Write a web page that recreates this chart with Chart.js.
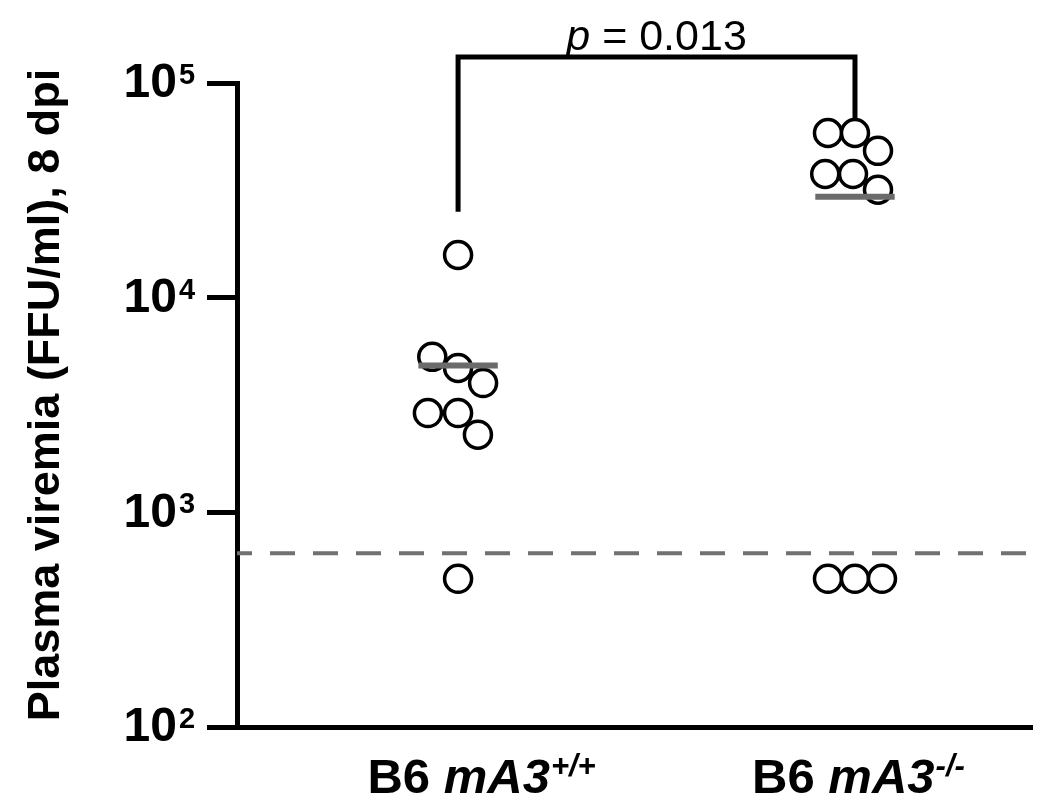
<!DOCTYPE html>
<html lang="en">
<head>
<meta charset="UTF-8">
<title>Plasma viremia</title>
<script src="https://cdn.jsdelivr.net/npm/chart.js"></script>
<style>
    html, body {
        margin: 0;
        padding: 0;
        background: #fff;
        overflow: hidden;
    }
    .chart-container {
        width: 1050px;
        height: 807px;
    }
</style>
</head>
<body>
<div class="chart-container">
    <canvas id="chartCanvas"></canvas>
</div>
<script>
    // groups (x positions 1 and 2 on a linear axis)
    const groupX = [1, 2];
    const groupBase = ['B6 ', 'B6 '];
    const groupGene = ['mA3', 'mA3'];
    const groupSup = ['+/+', '-/-'];

    // individual mice, FFU/ml (x = group position + jitter)
    const wtX = [1, 0.935, 1, 1.063, 0.924, 1, 1.05, 1];
    const wtY = [15800, 5300, 4700, 4000, 2900, 2900, 2300, 490];
    const koX = [1.932, 2, 2.058, 1.925, 1.995, 2.058, 1.932, 2, 2.068];
    const koY = [58500, 58500, 48300, 37700, 37700, 31800, 490, 490, 490];

    const medians = [4830, 29500];
    const detectionLimit = 644;

    // significance bracket: left foot, top, right foot
    const bracketY = [25100, 132000, 68700];
    const pLabel = '0.013';

    const yTicks = [100, 1000, 10000, 100000];
    const yTitle = 'Plasma viremia (FFU/ml), 8 dpi';

    const xMin = 0.443, xMax = 2.446;
    const medianHalf = 0.1;

    const FONT = '"Liberation Sans", Arial, Helvetica, sans-serif';

    const toPts = (xs, ys) => xs.map((x, i) => ({ x: x, y: ys[i] }));

    const labelPlugin = {
        id: 'labels',
        afterDraw(chart) {
            const ctx = chart.ctx;
            const x = chart.scales.x, y = chart.scales.y;
            ctx.save();
            ctx.fillStyle = '#000';

            // y tick labels 10^n
            yTicks.forEach(v => {
                const py = y.getPixelForValue(v);
                ctx.font = 'bold 48px ' + FONT;
                ctx.textAlign = 'right';
                ctx.textBaseline = 'middle';
                ctx.fillText('10', 177, py + 1);
                ctx.font = 'bold 29px ' + FONT;
                ctx.textAlign = 'left';
                ctx.textBaseline = 'alphabetic';
                ctx.fillText(String(Math.round(Math.log10(v))), 179, py + 1);
            });

            // x group labels
            const nudge = [23, 3];
            groupX.forEach((g, i) => {
                const fBase = 'bold 49px ' + FONT;
                const fGene = 'italic bold 49px ' + FONT;
                const fSup = 'italic bold 31px ' + FONT;
                ctx.font = fBase; const w1 = ctx.measureText(groupBase[i]).width;
                ctx.font = fGene; const w2 = ctx.measureText(groupGene[i]).width;
                ctx.font = fSup; const w3 = ctx.measureText(groupSup[i]).width;
                let sx = x.getPixelForValue(g) + nudge[i] - (w1 + w2 + w3) / 2;
                ctx.textAlign = 'left';
                ctx.textBaseline = 'alphabetic';
                ctx.font = fBase; ctx.fillText(groupBase[i], sx, 793); sx += w1;
                ctx.font = fGene; ctx.fillText(groupGene[i], sx, 793); sx += w2 + 1;
                ctx.font = fSup; ctx.fillText(groupSup[i], sx, 776);
            });

            // p value above bracket
            const cx = (x.getPixelForValue(groupX[0]) + x.getPixelForValue(groupX[1])) / 2;
            const by = y.getPixelForValue(bracketY[1]) - 7;
            const fp = 'italic 43px ' + FONT;
            const fr = '43px ' + FONT;
            const rest = ' = ' + pLabel;
            ctx.font = fp; const wp = ctx.measureText('p').width;
            ctx.font = fr; const wr = ctx.measureText(rest).width;
            let px = cx - (wp + wr) / 2;
            ctx.font = fp; ctx.fillText('p', px, by);
            ctx.font = fr; ctx.fillText(rest, px + wp, by);

            // y axis title
            ctx.translate(59, 395);
            ctx.rotate(-Math.PI / 2);
            ctx.textAlign = 'center';
            ctx.textBaseline = 'alphabetic';
            ctx.font = 'bold 45px ' + FONT;
            ctx.fillText(yTitle, 0, 0);
            ctx.restore();
        }
    };

    const circleStyle = {
        type: 'scatter',
        pointRadius: 13.5,
        pointHoverRadius: 13.5,
        pointBorderWidth: 3.5,
        pointBackgroundColor: '#fff',
        pointBorderColor: '#000',
        showLine: false,
        order: 1
    };

    const ctx = document.getElementById('chartCanvas').getContext('2d');
    new Chart(ctx, {
        type: 'scatter',
        data: {
            datasets: [
                Object.assign({ label: 'B6 mA3+/+', data: toPts(wtX, wtY) }, circleStyle),
                Object.assign({ label: 'B6 mA3-/-', data: toPts(koX, koY) }, circleStyle),
                {
                    label: 'median +/+',
                    data: [{ x: groupX[0] - medianHalf, y: medians[0] }, { x: groupX[0] + medianHalf, y: medians[0] }],
                    showLine: true, borderColor: '#6b6b6b', borderWidth: 6, pointRadius: 0, borderCapStyle: 'butt', order: 0
                },
                {
                    label: 'median -/-',
                    data: [{ x: groupX[1] - medianHalf, y: medians[1] }, { x: groupX[1] + medianHalf, y: medians[1] }],
                    showLine: true, borderColor: '#6b6b6b', borderWidth: 6, pointRadius: 0, borderCapStyle: 'butt', order: 0
                },
                {
                    label: 'detection limit',
                    data: [{ x: xMin, y: detectionLimit }, { x: xMax, y: detectionLimit }],
                    showLine: true, borderColor: '#707070', borderWidth: 4, borderDash: [25, 18], borderDashOffset: 10,
                    pointRadius: 0, order: 2
                },
                {
                    label: 'bracket',
                    data: [
                        { x: groupX[0], y: bracketY[0] },
                        { x: groupX[0], y: bracketY[1] },
                        { x: groupX[1], y: bracketY[1] },
                        { x: groupX[1], y: bracketY[2] }
                    ],
                    showLine: true, borderColor: '#000', borderWidth: 5, pointRadius: 0,
                    borderJoinStyle: 'miter', clip: false, order: 0
                }
            ]
        },
        options: {
            responsive: true,
            maintainAspectRatio: false,
            animation: false,
            layout: { padding: { top: 83, right: 18, left: 0, bottom: 0 } },
            plugins: { legend: { display: false }, tooltip: { enabled: false } },
            scales: {
                x: {
                    type: 'linear',
                    min: xMin,
                    max: xMax,
                    grid: { display: false },
                    border: { display: true, color: '#000', width: 5 },
                    ticks: { display: false },
                    afterFit(s) { s.height = 80; }
                },
                y: {
                    type: 'logarithmic',
                    min: 100,
                    max: 100000,
                    afterBuildTicks(s) { s.ticks = yTicks.map(v => ({ value: v })); },
                    grid: { drawOnChartArea: false, drawTicks: true, tickLength: 30, tickWidth: 5, color: '#000' },
                    border: { display: true, color: '#000', width: 5 },
                    ticks: { display: false },
                    afterFit(s) { s.width = 237; }
                }
            }
        },
        plugins: [labelPlugin]
    });
</script>
</body>
</html>
